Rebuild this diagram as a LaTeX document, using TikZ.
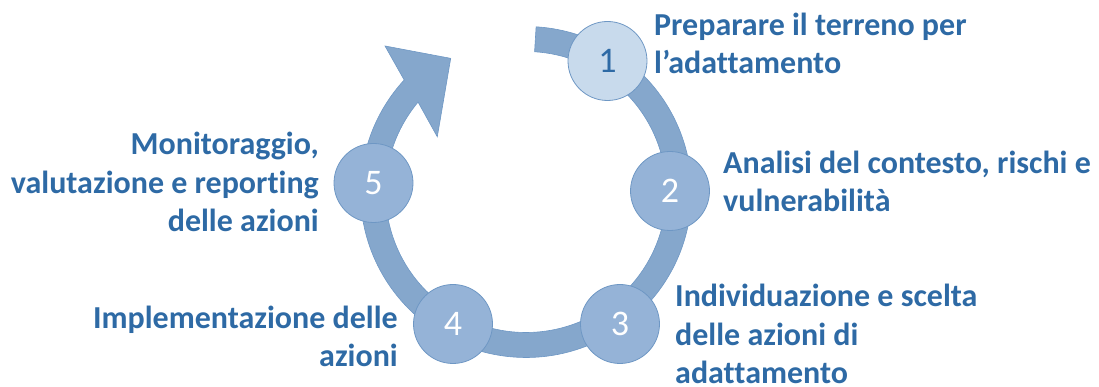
\documentclass[tikz,border=0pt]{standalone}
\usepackage{fontspec}
\setmainfont{Carlito}[Ligatures=NoCommon]
\usepackage{xcolor}
\definecolor{ringblue}{HTML}{85A7CC}
\definecolor{edgeblue}{HTML}{6E97C4}
\definecolor{phaseblue}{HTML}{95B3D7}
\definecolor{firstblue}{HTML}{C8DAEC}
\definecolor{textblue}{HTML}{2E6AA5}

\begin{document}
\begin{tikzpicture}[x=1pt, y=1pt,
  phasecircle/.style={circle, draw=edgeblue, line width=0.8pt, fill=phaseblue,
    minimum size=79pt, inner sep=0pt, text=white, font=\fontsize{36}{40}\selectfont},
  phasetext/.style={text=textblue, inner sep=0pt,
    font=\bfseries\fontsize{32}{38.5}\selectfont}]
  \useasboundingbox (0,0) rectangle (1099,387);
  % Draw circular arrow
  \begin{scope}[shift={(526,195)}]
    \fill[ringblue, draw=edgeblue, line width=0.6pt]
      (86.5:165.5pt) arc[start angle=86.5, end angle=-222.6, radius=165.5pt]
      -- (134:203pt) -- (119.4:153.4pt) -- (148.1:104.5pt) -- (140.2:140.5pt)
      arc[start angle=-219.8, end angle=86.5, radius=140.5pt] -- cycle;
  \end{scope}
  % Draw phase circles
  \node[phasecircle, fill=firstblue, text=textblue] (c1) at (607.5,326) {1};
  \foreach \n/\x/\y in {2/670/196, 3/620/63, 4/453/63, 5/373.5/204} {
    \node[phasecircle] (c\n) at (\x,\y) {\n};
  }
  % Add phase labels (base = last line)
  \node[phasetext, anchor=base west, align=left] (t1) at (654,313)
    {Preparare il terreno per\\l’adattamento};
  \node[phasetext, anchor=base west, align=left] (t2) at (723,175)
    {Analisi del contesto, rischi e\\vulnerabilità};
  \node[phasetext, anchor=base west, align=left] (t3) at (675,3)
    {Individuazione e scelta\\delle azioni di\\adattamento};
  \node[phasetext, anchor=base east, align=right] (t4) at (398,20)
    {Implementazione delle\\azioni};
  \node[phasetext, anchor=base east, align=right] (t5) at (319,155)
    {Monitoraggio,\\valutazione e reporting\\delle azioni};
\end{tikzpicture}
\end{document}
